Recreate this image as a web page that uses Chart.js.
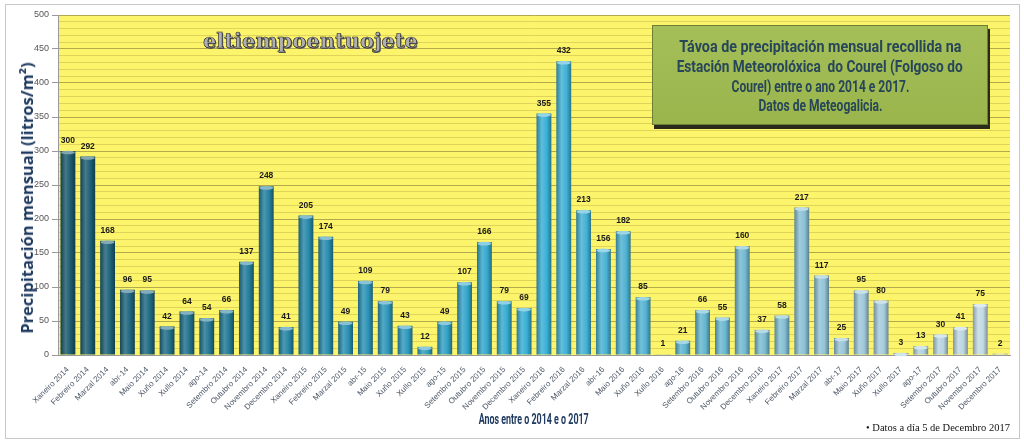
<!DOCTYPE html>
<html>
<head>
<meta charset="utf-8">
<script src="https://cdn.jsdelivr.net/npm/chart.js@4/dist/chart.umd.min.js"></script>
<style>
html,body{margin:0;padding:0;background:#fff;}
#wrap{position:relative;width:1024px;height:444px;overflow:hidden;}
canvas{position:absolute;left:0;top:0;}
#titlebox{position:absolute;left:652px;top:25px;width:336px;height:100px;
  background:linear-gradient(180deg,#a5bf58 0%,#99b54c 100%);
  border:1px solid #6d7f34;box-shadow:2px 4px 0 #2a2a1c;box-sizing:border-box;}
.tl{position:absolute;left:-101px;width:536px;text-align:center;white-space:nowrap;}
.tl span{display:inline-block;font-family:Roboto,sans-serif;font-weight:bold;font-size:17px;line-height:19px;color:#284659;transform-origin:center center;}
#logo{position:absolute;left:203px;top:28px;font-family:"DejaVu Serif",serif;font-weight:bold;
  font-size:21px;letter-spacing:0px;color:#b0b0b0;-webkit-text-stroke:0.6px #1a1a1a;
  text-shadow:1px 1px 0 #666;}
#foot{position:absolute;left:866px;top:422px;font-family:"Liberation Serif",serif;font-size:10.5px;color:#111;white-space:nowrap;}
#xtitle{position:absolute;left:0;width:1068px;top:410px;text-align:center;white-space:nowrap;}
#xtitle span{display:inline-block;font-family:Roboto,sans-serif;font-weight:bold;font-size:14px;line-height:17px;color:#1f3a60;}
#ytitle{position:absolute;left:27px;top:198px;width:0;height:0;}
#ytitle span{position:absolute;left:0;top:0;white-space:nowrap;font-family:"Open Sans",sans-serif;font-weight:bold;font-size:16.5px;line-height:20px;color:#1f3a60;transform:translate(-50%,-50%) rotate(-90deg);}
</style>
</head>
<body>
<div id="wrap">
<canvas id="c" width="1024" height="444"></canvas>
<div id="logo">eltiempoentuojete</div>
<div id="titlebox">
  <div class="tl" style="top:11px"><span data-w="282">Távoa de precipitación mensual recollida na</span></div>
  <div class="tl" style="top:31px"><span data-w="286">Estación Meteorolóxica&nbsp; do Courel (Folgoso do</span></div>
  <div class="tl" style="top:51px"><span data-w="178">Courel) entre o ano 2014 e 2017.</span></div>
  <div class="tl" style="top:70px"><span data-w="124">Datos de Meteogalicia.</span></div>
</div>
<div id="xtitle"><span data-w="110">Anos entre o 2014 e o 2017</span></div>
<div id="ytitle"><span>Precipitación mensual (litros/m²)</span></div>
<div id="foot">• Datos a día 5 de Decembro 2017</div>
</div>
<script>
// ---- data ----
const categories = [
 "Xaneiro 2014","Febreiro 2014","Marzal 2014","abr-14","Maio 2014","Xuño 2014","Xullo 2014","ago-14","Setembro 2014","Outubro 2014","Novembro 2014","Decembro 2014",
 "Xaneiro 2015","Febreiro 2015","Marzal 2015","abr-15","Maio 2015","Xuño 2015","Xullo 2015","ago-15","Setembro 2015","Outubro 2015","Novembro 2015","Decembro 2015",
 "Xaneiro 2016","Febreiro 2016","Marzal 2016","abr-16","Maio 2016","Xuño 2016","Xullo 2016","ago-16","Setembro 2016","Outubro 2016","Novembro 2016","Decembro 2016",
 "Xaneiro 2017","Febreiro 2017","Marzal 2017","abr-17","Maio 2017","Xuño 2017","Xullo 2017","ago-17","Setembro 2017","Outubro 2017","Novembro 2017","Decembro 2017"
];
const precip2014 = [300,292,168,96,95,42,64,54,66,137,248,41];
const precip2015 = [205,174,49,109,79,43,12,49,107,166,79,69];
const precip2016 = [355,432,213,156,182,85,1,21,66,55,160,37];
const precip2017 = [58,217,117,25,95,80,3,13,30,41,75,2];
const values = [].concat(precip2014,precip2015,precip2016,precip2017);
const yTickLabels = [0,50,100,150,200,250,300,350,400,450,500];

// condensed look for overlay texts: squeeze each line to its measured reference width
document.querySelectorAll('span[data-w]').forEach(s=>{
  const w=s.getBoundingClientRect().width; const target=+s.dataset.w;
  if(w>0) s.style.transform='scaleX('+(target/w).toFixed(3)+')';
});

// ---- style helpers ----
const colorStops = [[0,[27,90,110]],[0.25,[38,135,168]],[0.5,[56,176,214]],[0.66,[92,180,208]],[0.82,[150,196,214]],[1,[200,220,230]]];
function baseColor(i){
  const t = i/(categories.length-1);
  for(let k=0;k<colorStops.length-1;k++){
    const a=colorStops[k], b=colorStops[k+1];
    if(t>=a[0] && t<=b[0]){
      const f=(t-a[0])/(b[0]-a[0]);
      return a[1].map((v,j)=>Math.round(v+(b[1][j]-v)*f));
    }
  }
  return colorStops[colorStops.length-1][1];
}
function shade(c,amt){
  return 'rgb('+c.map(v=>Math.round(amt>=0? v+(255-v)*amt : v*(1+amt))).join(',')+')';
}
const BAR_PCT = 0.75;

const bgPlugin = {
  id:'bg',
  beforeDraw(chart){
    const {ctx, chartArea:a} = chart;
    ctx.save();
    ctx.fillStyle='#fff'; ctx.fillRect(0,0,chart.width,chart.height);
    ctx.strokeStyle='#c8c8c8'; ctx.lineWidth=1;
    ctx.strokeRect(5.5,4.5,1014,434);
    ctx.fillStyle='#fcf56c';
    ctx.fillRect(a.left,a.top,a.right-a.left,a.bottom-a.top);
    ctx.restore();
  }
};
const labelPlugin = {
  id:'vals',
  afterDatasetsDraw(chart){
    const ctx=chart.ctx; const meta=chart.getDatasetMeta(0);
    ctx.save();
    meta.data.forEach((el,i)=>{
      const c=baseColor(i);
      if(values[i]>2){
        ctx.fillStyle=shade(c,0.45);
        ctx.beginPath();
        ctx.ellipse(el.x,el.y+1.5,el.width/2-0.5,1.8,0,0,Math.PI*2);
        ctx.fill();
      }
      ctx.fillStyle='#1a1a1a';
      ctx.font='bold 8.5px "Liberation Sans", sans-serif';
      ctx.textAlign='center'; ctx.textBaseline='bottom';
      ctx.fillText(String(values[i]), el.x, el.y-6);
    });
    ctx.restore();
  }
};

new Chart(document.getElementById('c'),{
  type:'bar',
  data:{labels:categories,datasets:[{
    data:values,
    borderWidth:0,
    barPercentage:BAR_PCT,
    categoryPercentage:1,
    backgroundColor:(ctx)=>{
      const chart=ctx.chart; const xs=chart.scales && chart.scales.x;
      const c=baseColor(ctx.dataIndex);
      if(!xs || !chart.chartArea || xs.width<=0) return shade(c,0);
      const cx=xs.getPixelForValue(ctx.dataIndex);
      const w=xs.width/categories.length*BAR_PCT;
      const g=chart.ctx.createLinearGradient(cx-w/2,0,cx+w/2,0);
      g.addColorStop(0,shade(c,-0.3));
      g.addColorStop(0.35,shade(c,0.18));
      g.addColorStop(0.7,shade(c,0));
      g.addColorStop(1,shade(c,-0.35));
      return g;
    }
  }]},
  options:{
    responsive:false, animation:false, devicePixelRatio:1,
    layout:{padding:{left:13,top:15,right:14,bottom:10}},
    plugins:{legend:{display:false},tooltip:{enabled:false}},
    scales:{
      y:{
        min:0,max:500,
        afterFit:(s)=>{s.width=45;},
        ticks:{stepSize:10,autoSkip:false,padding:3,color:'#555',
          font:{family:'"Liberation Sans", sans-serif',size:9},
          callback:(v)=> yTickLabels.includes(v)? String(v):''},
        grid:{
          color:(c)=> (c.tick && c.tick.value%50===0)? '#b3a94c':'#e0d35a',
          tickColor:(c)=> (c.tick && c.tick.value%50===0)? '#999':'rgba(0,0,0,0)',
          tickLength:6,lineWidth:1
        },
        border:{color:'#999'},
        title:{display:false}
      },
      x:{
        afterFit:(s)=>{s.height=79;},
        ticks:{autoSkip:false,maxRotation:45,minRotation:45,color:'#4d5866',padding:2,
          font:{family:'"Liberation Sans", sans-serif',size:8}},
        grid:{display:false},
        border:{color:'#999'},
        title:{display:false}
      }
    }
  },
  plugins:[bgPlugin,labelPlugin]
});
</script>
</body>
</html>
